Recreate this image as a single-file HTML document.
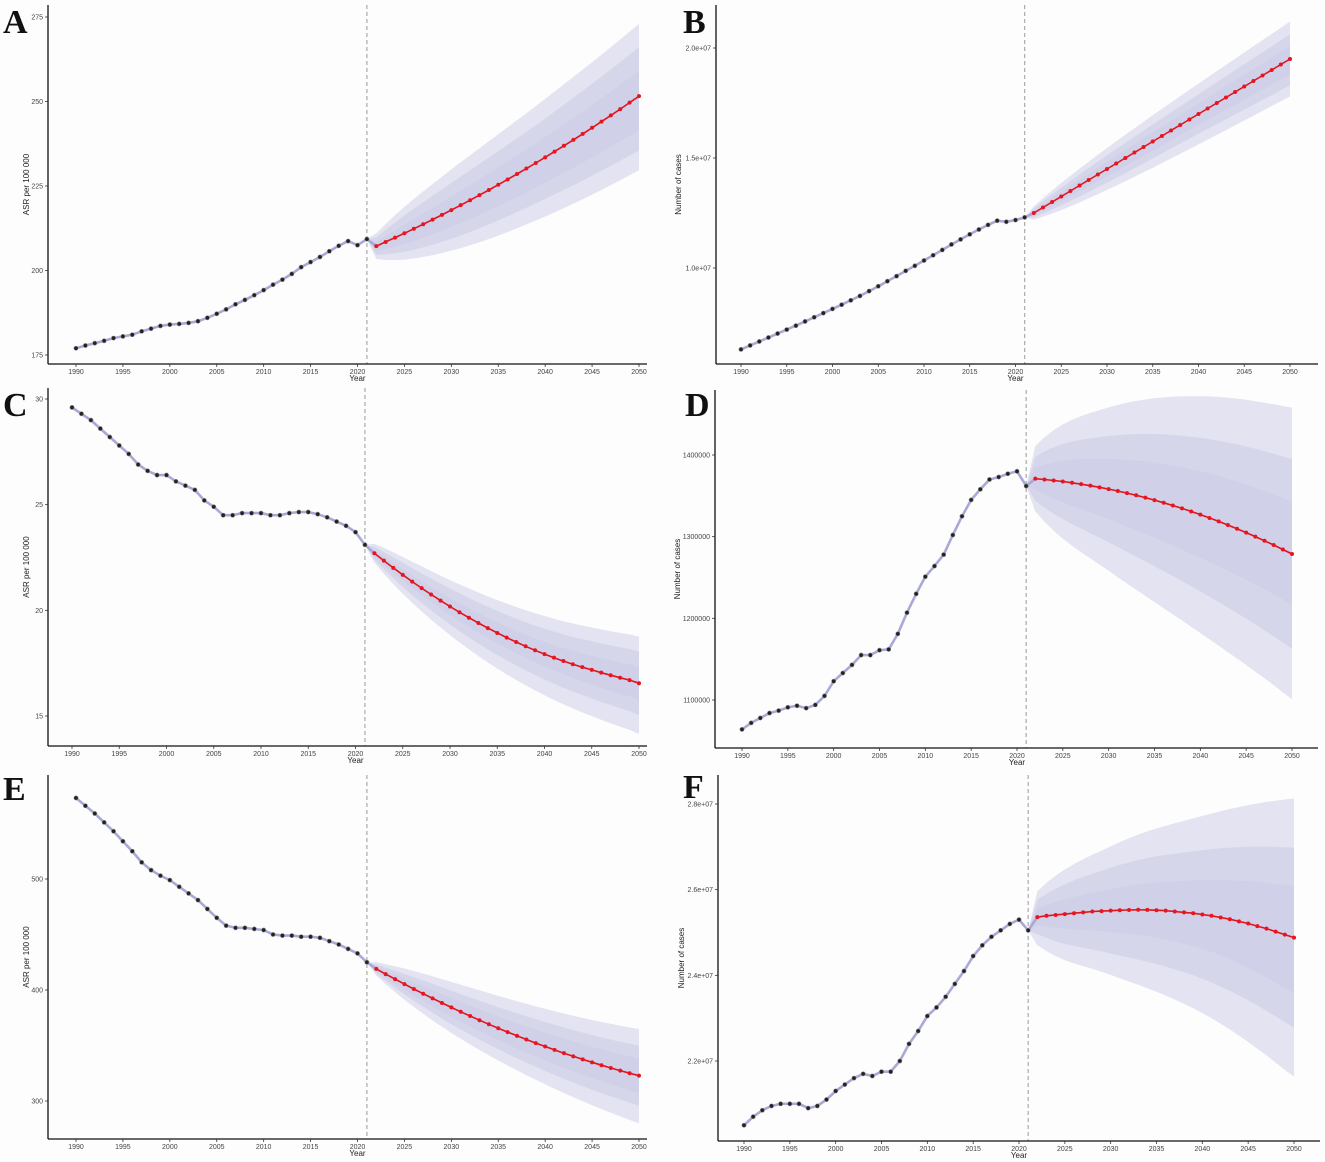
<!DOCTYPE html>
<html><head><meta charset="utf-8"><style>
html,body{margin:0;padding:0;background:#fdfdfd;}
svg{display:block;}
text{font-family:"Liberation Sans",sans-serif;}
</style></head><body>
<svg id="chart" width="1325" height="1162" viewBox="0 0 1325 1162" xmlns="http://www.w3.org/2000/svg"></svg>
<script>
// ---------- data ----------
const histYears = [1990,1991,1992,1993,1994,1995,1996,1997,1998,1999,2000,2001,2002,2003,2004,2005,2006,2007,2008,2009,2010,2011,2012,2013,2014,2015,2016,2017,2018,2019,2020,2021];
const fcYears = [2022,2023,2024,2025,2026,2027,2028,2029,2030,2031,2032,2033,2034,2035,2036,2037,2038,2039,2040,2041,2042,2043,2044,2045,2046,2047,2048,2049,2050];
const bandYears = [2021,2022,2030,2040,2050];
const xTicks = [1990,1995,2000,2005,2010,2015,2020,2025,2030,2035,2040,2045,2050];

const histA = [177,177.8,178.5,179.2,180,180.5,181,182,182.8,183.6,184,184.2,184.5,185,186,187.2,188.5,190,191.3,192.7,194.2,195.8,197.3,199,201,202.5,204,205.7,207.3,208.7,207.5,209.3];
const fcA = [207.2,208.45,209.72,211.02,212.34,213.69,215.06,216.46,217.88,219.33,220.8,222.3,223.82,225.37,226.94,228.54,230.16,231.81,233.48,235.18,236.9,238.65,240.42,242.22,244.04,245.89,247.76,249.66,251.58];
const outerUpA=[0,3.8,12,17.3,21.4], outerLoA=[0,3.8,12,17.5,21.9];
const midUpA=[0,2.6,8,11.5,14.5], midLoA=[0,2.6,8.5,12.3,16];
const innerUpA=[0,1.3,4,6,7.5], innerLoA=[0,1.5,5,7.5,10];
const yTicksA=[175,200,225,250,275];
const yTickLabelsA=["175","200","225","250","275"];

const histB = [6.30,6.48,6.66,6.84,7.02,7.2,7.38,7.57,7.76,7.95,8.14,8.33,8.53,8.73,8.95,9.17,9.4,9.63,9.87,10.1,10.34,10.58,10.82,11.07,11.3,11.53,11.75,11.96,12.15,12.1,12.18,12.3];
const fcB = [12.5,12.75,13,13.25,13.5,13.75,14,14.25,14.5,14.75,15,15.25,15.5,15.75,16,16.25,16.5,16.75,17,17.25,17.5,17.75,18,18.25,18.5,18.75,19,19.25,19.5];
const outerUpB=[0,0.3,0.95,1.38,1.7], outerLoB=[0,0.3,0.95,1.38,1.7];
const midUpB=[0,0.2,0.62,0.9,1.12], midLoB=[0,0.2,0.62,0.9,1.2];
const innerUpB=[0,0.1,0.33,0.48,0.6], innerLoB=[0,0.1,0.33,0.5,0.7];
const yTicksB=[10,15,20];
const yTickLabelsB=["1.0e+07","1.5e+07","2.0e+07"];

const histC = [29.6,29.3,29.0,28.6,28.2,27.8,27.4,26.9,26.6,26.4,26.4,26.1,25.9,25.7,25.2,24.9,24.5,24.5,24.6,24.6,24.6,24.5,24.5,24.6,24.65,24.65,24.55,24.4,24.2,24.0,23.7,23.1];
const fcC = [22.7,22.35,22.01,21.68,21.36,21.05,20.75,20.46,20.18,19.91,19.65,19.4,19.16,18.93,18.71,18.5,18.3,18.11,17.93,17.76,17.6,17.45,17.31,17.18,17.05,16.93,16.81,16.7,16.55];
const outerUpC=[0,0.45,1.25,1.8,2.2], outerLoC=[0,0.45,1.35,1.95,2.4];
const midUpC=[0,0.3,0.85,1.2,1.5], midLoC=[0,0.3,0.85,1.2,1.5];
const innerUpC=[0,0.15,0.4,0.58,0.75], innerLoC=[0,0.15,0.4,0.58,0.8];
const yTicksC=[15,20,25,30];
const yTickLabelsC=["15","20","25","30"];

const histD = [1064,1072,1078,1084,1087,1091,1093,1090,1094,1105,1123,1133,1143,1155,1155,1161,1162,1181,1207,1230,1251,1264,1278,1302,1325,1345,1358,1370,1373,1377,1380,1362];
const fcD = [1371,1370,1368.83,1367.49,1365.98,1364.3,1362.45,1360.43,1358.24,1355.88,1353.35,1350.65,1347.78,1344.74,1341.53,1338.15,1334.6,1330.88,1326.99,1322.93,1318.7,1314.3,1309.73,1304.99,1300.08,1295,1289.75,1284.33,1278.74];
const outerUpD=[0,40,100,145,179], outerLoD=[0,40,100,145,178];
const midUpD=[0,27,65,94,116], midLoD=[0,27,65,94,116];
const innerUpD=[0,14,37,53,64], innerLoD=[0,14,37,53,62];
const yTicksD=[1100,1200,1300,1400];
const yTickLabelsD=["1100000","1200000","1300000","1400000"];

const histE = [573,566,559,551,543,534,525,515,508,503,499,493,487,481,473,465,458,456,456,455,454,450,449,449,448,448,447,444,441,437,433,425];
const fcE = [419,414.35,409.79,405.32,400.94,396.65,392.45,388.34,384.32,380.39,376.55,372.8,369.14,365.57,362.09,358.7,355.4,352.19,349.07,346.04,343.1,340.25,337.49,334.82,332.24,329.75,327.35,325.04,322.82];
const outerUpE=[0,6,23,34,42], outerLoE=[0,6,23,34,43];
const midUpE=[0,4,15,22,27], midLoE=[0,4,15,22,27];
const innerUpE=[0,2,8.5,12.5,15.5], innerLoE=[0,2,8.5,12.5,16];
const yTicksE=[300,400,500];
const yTickLabelsE=["300","400","500"];

const histF = [2.05,2.07,2.085,2.095,2.10,2.10,2.10,2.09,2.095,2.11,2.13,2.145,2.16,2.17,2.165,2.175,2.175,2.20,2.24,2.27,2.305,2.325,2.35,2.38,2.41,2.445,2.47,2.49,2.505,2.52,2.53,2.505];
const fcF = [2.536,2.539,2.541,2.543,2.545,2.547,2.549,2.55,2.551,2.552,2.5525,2.553,2.5528,2.552,2.551,2.549,2.547,2.545,2.542,2.539,2.535,2.531,2.526,2.521,2.515,2.509,2.502,2.495,2.488];
const outerUpF=[0,0.06,0.15,0.23,0.325], outerLoF=[0,0.066,0.15,0.23,0.325];
const midUpF=[0,0.04,0.1,0.15,0.21], midLoF=[0,0.04,0.1,0.15,0.21];
const innerUpF=[0,0.02,0.05,0.08,0.12], innerLoF=[0,0.02,0.05,0.08,0.13];
const yTicksF=[2.2,2.4,2.6,2.8];
const yTickLabelsF=["2.2e+07","2.4e+07","2.6e+07","2.8e+07"];

// ---------- layout ----------
const panels = [
 {id:"a",letter:"A",lx:3,ly:33,hist:histA,fc:fcA,oU:outerUpA,oL:outerLoA,mU:midUpA,mL:midLoA,iU:innerUpA,iL:innerLoA,yt:yTicksA,yl:yTickLabelsA,
  x1:76,x2:639,axX:48,bot:364,top:5,right:647,v1:175,p1:355,v2:275,p2:17,ylab:"ASR per 100 000",ylx:29},
 {id:"b",letter:"B",lx:683,ly:33,hist:histB,fc:fcB,oU:outerUpB,oL:outerLoB,mU:midUpB,mL:midLoB,iU:innerUpB,iL:innerLoB,yt:yTicksB,yl:yTickLabelsB,
  x1:741,x2:1290,axX:716,bot:364,top:5,right:1318,v1:10,p1:268,v2:20,p2:48,ylab:"Number of cases",ylx:681},
 {id:"c",letter:"C",lx:3,ly:416,hist:histC,fc:fcC,oU:outerUpC,oL:outerLoC,mU:midUpC,mL:midLoC,iU:innerUpC,iL:innerLoC,yt:yTicksC,yl:yTickLabelsC,
  x1:72,x2:639,axX:48,bot:746,top:388,right:647,v1:15,p1:716,v2:30,p2:399,ylab:"ASR per 100 000",ylx:29},
 {id:"d",letter:"D",lx:685,ly:416,hist:histD,fc:fcD,oU:outerUpD,oL:outerLoD,mU:midUpD,mL:midLoD,iU:innerUpD,iL:innerLoD,yt:yTicksD,yl:yTickLabelsD,
  x1:742,x2:1292,axX:715,bot:748,top:390,right:1318,v1:1100,p1:700,v2:1400,p2:455,ylab:"Number of cases",ylx:680},
 {id:"e",letter:"E",lx:3,ly:800,hist:histE,fc:fcE,oU:outerUpE,oL:outerLoE,mU:midUpE,mL:midLoE,iU:innerUpE,iL:innerLoE,yt:yTicksE,yl:yTickLabelsE,
  x1:76,x2:639,axX:48,bot:1139,top:775,right:647,v1:300,p1:1101,v2:500,p2:879,ylab:"ASR per 100 000",ylx:29},
 {id:"f",letter:"F",lx:683,ly:798,hist:histF,fc:fcF,oU:outerUpF,oL:outerLoF,mU:midUpF,mL:midLoF,iU:innerUpF,iL:innerLoF,yt:yTicksF,yl:yTickLabelsF,
  x1:744,x2:1294,axX:718,bot:1141,top:775,right:1320,v1:2.2,p1:1061,v2:2.8,p2:804,ylab:"Number of cases",ylx:684}
];

const NS="http://www.w3.org/2000/svg";
const svg=document.getElementById("chart");
function mk(tag,attrs,parent){const e=document.createElementNS(NS,tag);for(const k in attrs)e.setAttribute(k,attrs[k]);(parent||svg).appendChild(e);return e;}
// smooth (Catmull-Rom style, non-uniform) interpolation of band offsets
function interp(arr,yr){
  const n=bandYears.length;
  for(let i=0;i<n-1;i++){
    if(yr<=bandYears[i+1]){
      const x0=bandYears[i],x1=bandYears[i+1],h=x1-x0,t=(yr-x0)/h;
      const slope=(j)=>{ if(j<=0) return (arr[1]-arr[0])/(bandYears[1]-bandYears[0]);
        if(j>=n-1) return (arr[n-1]-arr[n-2])/(bandYears[n-1]-bandYears[n-2]);
        const s1=(arr[j]-arr[j-1])/(bandYears[j]-bandYears[j-1]), s2=(arr[j+1]-arr[j])/(bandYears[j+1]-bandYears[j]);
        if(s1*s2<=0) return 0; return 2/(1/s1+1/s2); };
      if(i===0) return arr[0]+t*(arr[1]-arr[0]);
      const m0=slope(i)*h,m1=slope(i+1)*h;
      const t2=t*t,t3=t2*t;
      return (2*t3-3*t2+1)*arr[i]+(t3-2*t2+t)*m0+(-2*t3+3*t2)*arr[i+1]+(t3-t2)*m1;
    }
  }
  return arr[n-1];
}

panels.forEach(p=>{
  const g=mk("g",{});
  
  
  const X=yr=>p.x1+(yr-1990)*(p.x2-p.x1)/60;
  const Y=v=>p.p1+(v-p.v1)*(p.p2-p.p1)/(p.v2-p.v1);
  const last=p.hist[p.hist.length-1];
  const bands=[[p.oU,p.oL,"outer"],[p.mU,p.mL,"mid"],[p.iU,p.iL,"inner"]];
  bands.forEach(b=>{
    let up=[],lo=[];
    up.push([X(2021),Y(last)]);lo.push([X(2021),Y(last)]);
    fcYears.forEach((yr,i)=>{const m=p.fc[i];up.push([X(yr),Y(m+interp(b[0],yr))]);lo.push([X(yr),Y(m-interp(b[1],yr))]);});
    const pts=up.concat(lo.reverse()).map(q=>q[0].toFixed(1)+","+q[1].toFixed(1)).join(" ");
    const poly=mk("polygon",{points:pts,fill:"#c9c9e6","fill-opacity":"0.5"},g);
    
    
  });
  const dl=mk("line",{x1:X(2021),x2:X(2021),y1:p.top,y2:p.bot,stroke:"#aaa","stroke-width":1.2,"stroke-dasharray":"4,3"},g);
  
  
  const hp=histYears.map((yr,i)=>X(yr).toFixed(1)+","+Y(p.hist[i]).toFixed(1)).concat([X(2022).toFixed(1)+","+Y(p.fc[0]).toFixed(1)]).join(" ");
  const hl=mk("polyline",{points:hp,fill:"none",stroke:"#a9a9d9","stroke-width":2.6},g);
  
  
  histYears.forEach((yr,i)=>{
    const c=mk("circle",{cx:X(yr),cy:Y(p.hist[i]),r:2.1,fill:"#222",stroke:"#888","stroke-width":0.6},g);
    
    
  });
  const fp=fcYears.map((yr,i)=>X(yr).toFixed(1)+","+Y(p.fc[i]).toFixed(1)).join(" ");
  const fl=mk("polyline",{points:fp,fill:"none",stroke:"#e0141e","stroke-width":1.6},g);
  
  
  fcYears.forEach((yr,i)=>{
    const c=mk("circle",{cx:X(yr),cy:Y(p.fc[i]),r:2,fill:"#e8141e"},g);
    
    
  });
  const ya=mk("line",{x1:p.axX,x2:p.axX,y1:p.top,y2:p.bot,stroke:"#111","stroke-width":1.3},g);
  
  
  const xa=mk("line",{x1:p.axX,x2:p.right,y1:p.bot,y2:p.bot,stroke:"#111","stroke-width":1.3},g);
  
  
  xTicks.forEach(yr=>{
    mk("line",{x1:X(yr),x2:X(yr),y1:p.bot,y2:p.bot+3,stroke:"#333","stroke-width":0.8},g);
    const t=mk("text",{x:X(yr),y:p.bot+10,"font-size":7,fill:"#444","text-anchor":"middle"},g);
    t.textContent=yr;
    
    
  });
  p.yt.forEach((v,i)=>{
    mk("line",{x1:p.axX-3,x2:p.axX,y1:Y(v),y2:Y(v),stroke:"#333","stroke-width":0.8},g);
    const t=mk("text",{x:p.axX-5,y:Y(v)+2.5,"font-size":7,fill:"#444","text-anchor":"end"},g);
    t.textContent=p.yl[i];
    
    
  });
  const xt=mk("text",{x:X(2020),y:p.bot+17,"font-size":8,fill:"#222","text-anchor":"middle"},g);
  xt.textContent="Year";
  
  
  const cy=(p.top+p.bot)/2;
  const yt=mk("text",{x:p.ylx,y:cy,"font-size":8,fill:"#222","text-anchor":"middle",transform:"rotate(-90 "+p.ylx+" "+cy+")"},g);
  yt.textContent=p.ylab;
  
  
  const lt=mk("text",{x:p.lx,y:p.ly,"font-size":34,"font-weight":"bold",fill:"#111",style:"font-family:'Liberation Serif',serif"},g);
  lt.textContent=p.letter;
  
  
});
</script>
</body></html>
